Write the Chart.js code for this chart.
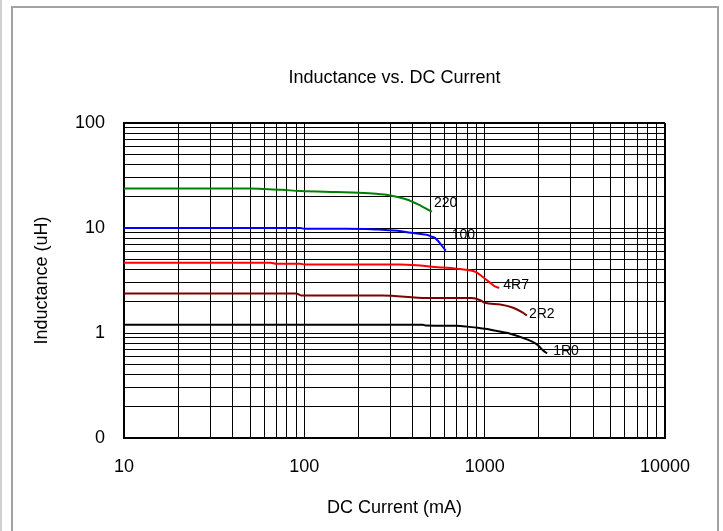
<!DOCTYPE html>
<html>
<head>
<meta charset="utf-8">
<script src="https://cdn.jsdelivr.net/npm/chart.js@4.4.0/dist/chart.umd.min.js"></script>
<style>
  html, body { margin: 0; padding: 0; background: #fff; overflow: hidden; }
  #wrap { position: relative; width: 723px; height: 531px; }
</style>
</head>
<body>
<div id="wrap"><canvas id="chart" width="723" height="531"></canvas></div>
<script>
// Inductance (uH) against DC bias current (mA) for each part value
const seriesNames = ['220', '100', '4R7', '2R2', '1R0'];

const current220    = [10, 50, 60, 75, 95, 150, 200, 250, 300, 370, 430, 510];
const inductance220 = [23.8, 23.8, 23.5, 23.1, 22.5, 22.0, 21.7, 21.2, 20.4, 18.7, 16.7, 14.3];

const current100    = [10, 95, 100, 220, 280, 330, 390, 480, 500, 530, 608];
const inductance100 = [10.0, 10.0, 9.85, 9.8, 9.55, 9.4, 9.0, 8.6, 8.35, 8.05, 6.1];

const current4R7    = [10, 65, 70, 95, 100, 340, 590, 680, 870, 910, 965, 1075, 1140, 1205];
const inductance4R7 = [4.66, 4.66, 4.56, 4.56, 4.5, 4.49, 4.2, 4.12, 3.88, 3.74, 3.47, 3.0, 2.78, 2.69];

const current2R2    = [10, 90, 96, 270, 480, 850, 945, 1000, 1220, 1440, 1610, 1715];
const inductance2R2 = [2.38, 2.38, 2.28, 2.28, 2.16, 2.16, 2.05, 1.94, 1.87, 1.74, 1.58, 1.47];

const current1R0    = [10, 455, 470, 700, 800, 950, 1030, 1110, 1400, 1715, 1950, 2110, 2220];
const inductance1R0 = [1.2, 1.2, 1.18, 1.17, 1.15, 1.11, 1.09, 1.06, 0.98, 0.87, 0.78, 0.68, 0.64];

const xMajorValues = [10, 100, 1000, 10000];
const xTickLabels  = ['10', '100', '1000', '10000'];
const yMajorValues = [0.1, 1, 10, 100];
const yTickLabels  = ['0', '1', '10', '100'];

const seriesColors = ['#008000', '#0000ff', '#ff0000', '#800000', '#000000'];
// where each curve's name sits relative to its last point (px)
const nameOffsets = [[2, -9], [6, -15], [4, -3], [2, -1], [6, -2]];

const FONT = "'Liberation Sans', Arial, sans-serif";

function zip(xs, ys) { return xs.map((x, i) => ({ x: x, y: ys[i] })); }

const seriesData = [
  zip(current220, inductance220),
  zip(current100, inductance100),
  zip(current4R7, inductance4R7),
  zip(current2R2, inductance2R2),
  zip(current1R0, inductance1R0)
];

// one grid line at every 1..9 step of each decade
function decadeTicks(majors) {
  const out = [];
  for (let i = 0; i < majors.length - 1; i++) {
    for (let k = 1; k < 10; k++) out.push({ value: majors[i] * k });
  }
  out.push({ value: majors[majors.length - 1] });
  return out;
}
function majorLabel(majors, labels) {
  return function (value) {
    const i = majors.findIndex(m => Math.abs(m - value) / m < 1e-6);
    return i >= 0 ? labels[i] : '';
  };
}
function gridWidth(majors) {
  const top = majors[majors.length - 1];
  return ctx => (ctx.tick && Math.abs(ctx.tick.value - top) / top < 1e-6) ? 2 : 1;
}

const framePlugin = {
  id: 'frame',
  beforeDraw(chart) {
    const c = chart.ctx;
    c.save();
    c.fillStyle = '#ffffff';
    c.fillRect(0, 0, chart.width, chart.height);
    c.strokeStyle = '#d0d0d0';
    c.lineWidth = 2;
    c.beginPath(); c.moveTo(1, 0); c.lineTo(1, chart.height); c.stroke();
    c.strokeStyle = '#a3a3a3';
    c.beginPath();
    c.moveTo(12, chart.height + 2);
    c.lineTo(12, 7);
    c.lineTo(718, 7);
    c.lineTo(718, chart.height + 2);
    c.stroke();
    c.restore();
  }
};

const seriesNamePlugin = {
  id: 'seriesNames',
  afterDatasetsDraw(chart) {
    const c = chart.ctx;
    c.save();
    c.font = '14px ' + FONT;
    c.fillStyle = '#000';
    c.textAlign = 'left';
    c.textBaseline = 'middle';
    chart.data.datasets.forEach((ds, i) => {
      const pts = chart.getDatasetMeta(i).data;
      const last = pts[pts.length - 1];
      c.fillText(ds.label, last.x + nameOffsets[i][0], last.y + nameOffsets[i][1]);
    });
    c.restore();
  }
};

new Chart(document.getElementById('chart'), {
  type: 'line',
  data: {
    datasets: seriesNames.map((name, i) => ({
      label: name,
      data: seriesData[i],
      borderColor: seriesColors[i],
      backgroundColor: seriesColors[i],
      borderWidth: 2,
      pointRadius: 0,
      fill: false,
      cubicInterpolationMode: 'monotone'
    }))
  },
  options: {
    responsive: false,
    animation: false,
    devicePixelRatio: 1,
    layout: { padding: { left: 0, right: 58, top: 0, bottom: 0 } },
    plugins: {
      legend: { display: false },
      tooltip: { enabled: false },
      title: {
        display: true,
        text: 'Inductance vs. DC Current',
        fullSize: false,
        color: '#000',
        font: { family: FONT, size: 18, weight: 'normal' },
        padding: { top: 67, bottom: 34.4 }
      }
    },
    scales: {
      x: {
        type: 'logarithmic',
        min: 10, max: 10000,
        afterBuildTicks: s => { s.ticks = decadeTicks(xMajorValues); },
        afterFit: s => { s.height = 93; },
        ticks: {
          autoSkip: false, maxRotation: 0, padding: 18,
          color: '#000', font: { family: FONT, size: 18 },
          callback: majorLabel(xMajorValues, xTickLabels)
        },
        grid: { color: '#000', lineWidth: gridWidth(xMajorValues), drawTicks: false, tickLength: 0 },
        border: { display: true, color: '#000', width: 2 },
        title: {
          display: true, text: 'DC Current (mA)', color: '#000',
          font: { family: FONT, size: 18 }, padding: { top: 0, bottom: 12.2 }
        }
      },
      y: {
        type: 'logarithmic',
        min: 0.1, max: 100,
        afterBuildTicks: s => { s.ticks = decadeTicks(yMajorValues); },
        afterFit: s => { s.width = 124; },
        ticks: {
          autoSkip: false, padding: 19,
          color: '#000', font: { family: FONT, size: 18 },
          callback: majorLabel(yMajorValues, yTickLabels)
        },
        grid: { color: '#000', lineWidth: gridWidth(yMajorValues), drawTicks: false, tickLength: 0 },
        border: { display: true, color: '#000', width: 2 },
        title: {
          display: true, text: 'Inductance (uH)', color: '#000',
          font: { family: FONT, size: 18 }, padding: { top: 31.2, bottom: 0 }
        }
      }
    }
  },
  plugins: [framePlugin, seriesNamePlugin]
});
</script>
</body>
</html>
